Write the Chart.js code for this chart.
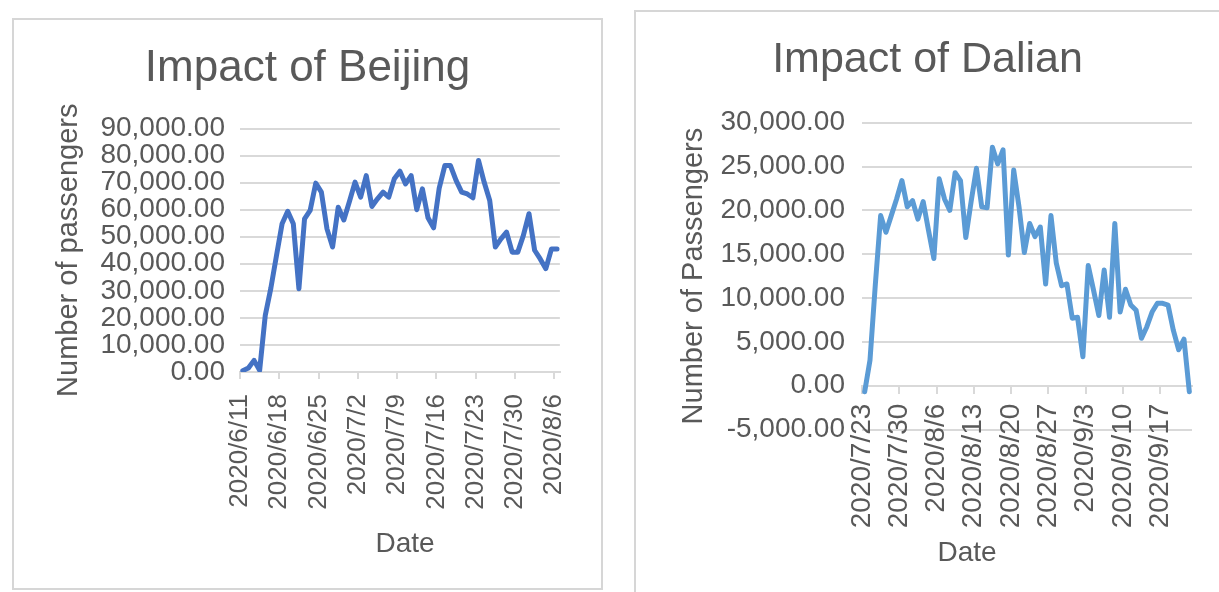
<!DOCTYPE html>
<html>
<head>
<meta charset="utf-8">
<title>Impact of Beijing / Dalian</title>
<script src="https://cdn.jsdelivr.net/npm/chart.js@4.4.1/dist/chart.umd.min.js"></script>
<style>
    html, body { margin: 0; padding: 0; background: #fff; overflow: hidden; }
    body { width: 1219px; height: 592px; position: relative; }
    .panel { position: absolute; border: 2px solid #d6d6d6; background: #fff; }
    #beijing-panel { left: 12px; top: 18px; width: 587px; height: 568px; }
    #dalian-panel { left: 634px; top: 10px; width: 600px; height: 620px; }
    canvas { display: block; }
</style>
</head>
<body>
<div class="panel" id="beijing-panel"><canvas id="beijing-chart" width="587" height="568"></canvas></div>
<div class="panel" id="dalian-panel"><canvas id="dalian-chart" width="583" height="620"></canvas></div>

<script>
// Daily passengers, Beijing: 2020/6/11 .. 2020/8/6
const bjTickLabels = ['2020/6/11', '2020/6/18', '2020/6/25', '2020/7/2', '2020/7/9',
    '2020/7/16', '2020/7/23', '2020/7/30', '2020/8/6'];
const bjPassengers = [
    500, 1500, 4300, 600, 20900, 31000, 43000, 54800, 59400, 54800,
    30800, 56600, 59700, 69800, 66500, 52900, 46200, 60900, 56200, 63000,
    70200, 64600, 72600, 61200, 64000, 66500, 64600, 71400, 74200, 69500,
    72600, 60000, 67700, 57000, 53300, 68000, 76300, 76300, 70800, 66500,
    65800, 64400, 78200, 70200, 63400, 46200, 49200, 51700, 44300, 44300,
    50500, 58500, 45000, 41800, 38200, 45500, 45500,
];

// Daily passengers, Dalian: 2020/7/23 .. 2020/9/22
const dlTickLabels = ['2020/7/23', '2020/7/30', '2020/8/6', '2020/8/13', '2020/8/20',
    '2020/8/27', '2020/9/3', '2020/9/10', '2020/9/17'];
const dlPassengers = [
    -700, 2900, 11500, 19400, 17500, 19400, 21300, 23400, 20400, 21100,
    19000, 21000, 17700, 14500, 23600, 21300, 20000, 24300, 23400, 16900,
    21000, 24800, 20400, 20300, 27200, 25300, 26900, 14900, 24600, 20400,
    15200, 18500, 17000, 18100, 11600, 19400, 14000, 11400, 11600, 7700,
    7800, 3300, 13700, 10900, 8000, 13200, 7800, 18500, 8400, 11000,
    9200, 8600, 5400, 6700, 8400, 9400, 9400, 9200, 6300, 4100,
    5300, -700,
];

const textGray = '#595959';
const gridGray = '#d9d9d9';
const family = '"Liberation Sans", Arial, sans-serif';

function formatPassengers(value) {
    return value.toLocaleString('en-US', { minimumFractionDigits: 2, maximumFractionDigits: 2 });
}

// "Date" caption under the x axis; placed by hand because it is not centred on the plot
const dateCaption = {
    id: 'dateCaption',
    afterDraw(chart, args, opts) {
        const ctx = chart.ctx;
        ctx.save();
        ctx.font = `28px ${family}`;
        ctx.fillStyle = textGray;
        ctx.textAlign = 'center';
        ctx.textBaseline = 'middle';
        ctx.fillText(opts.text, opts.x, opts.y);
        ctx.restore();
    },
};

function buildChart(canvasId, opts) {
    // each day is drawn in the middle of its slot, ticks sit on week boundaries
    const points = opts.values.map((v, i) => ({ x: i + 0.5, y: v }));

    return new Chart(document.getElementById(canvasId), {
        type: 'line',
        data: {
            datasets: [{
                data: points,
                borderColor: opts.color,
                borderWidth: 5,
                borderJoinStyle: 'round',
                borderCapStyle: 'round',
                pointRadius: 0,
                tension: 0,
            }],
        },
        plugins: [dateCaption],
        options: {
            responsive: false,
            animation: false,
            // equal side padding keeps the title centred on the panel
            layout: { padding: { left: opts.padSide, right: opts.padSide, top: 0, bottom: opts.padBottom } },
            plugins: {
                legend: { display: false },
                tooltip: { enabled: false },
                title: {
                    display: true,
                    text: opts.title,
                    color: textGray,
                    font: { family, size: opts.titleSize, weight: 'normal' },
                    padding: { top: opts.titleTop, bottom: opts.titleBottom },
                },
                dateCaption: { text: 'Date', x: opts.dateX, y: opts.dateY },
            },
            scales: {
                x: {
                    type: 'linear',
                    position: opts.xPosition,
                    min: 0,
                    max: opts.values.length,
                    afterBuildTicks: (scale) => {
                        scale.ticks = opts.tickLabels.map((_, k) => ({ value: k * 7 }));
                    },
                    afterFit: (scale) => { scale.height = opts.xHeight; },
                    ticks: {
                        autoSkip: false,
                        minRotation: 90,
                        maxRotation: 90,
                        padding: opts.xTickPad,
                        color: textGray,
                        font: { family, size: opts.xTickSize },
                        callback: (v) => opts.tickLabels[v / 7],
                    },
                    grid: { drawOnChartArea: false, drawTicks: true, tickLength: 7, color: gridGray, lineWidth: 2 },
                    border: { display: true, color: gridGray, width: 2 },
                },
                y: {
                    min: opts.yMin,
                    max: opts.yMax,
                    afterFit: (scale) => { scale.width = 226 - opts.padSide; },
                    ticks: {
                        autoSkip: false,
                        stepSize: opts.yStep,
                        padding: opts.yTickPad,
                        color: textGray,
                        font: { family, size: 28 },
                        callback: formatPassengers,
                    },
                    grid: { color: gridGray, lineWidth: 2, drawTicks: false },
                    border: { display: false },
                    title: {
                        display: true,
                        text: opts.yTitle,
                        color: textGray,
                        font: { family, size: 29 },
                        padding: { top: opts.yTitleTop, bottom: 0 },
                    },
                },
            },
        },
    });
}

buildChart('beijing-chart', {
    title: 'Impact of Beijing',
    titleSize: 44,
    yTitle: 'Number of passengers',
    values: bjPassengers,
    tickLabels: bjTickLabels,
    color: '#4472c4',
    yMin: 0, yMax: 90000, yStep: 10000,
    xPosition: 'bottom',
    padSide: 31, padBottom: 0,
    titleTop: 22.5, titleBottom: 33.2,
    xHeight: 216, xTickPad: 15, xTickSize: 26,
    dateX: 391, dateY: 524,
    yTickPad: 15, yTitleTop: 6.2,
});

// the date axis crosses at zero, so its room is kept free with bottom padding
buildChart('dalian-chart', {
    title: 'Impact of Dalian',
    titleSize: 43,
    yTitle: 'Number of Passengers',
    values: dlPassengers,
    tickLabels: dlTickLabels,
    color: '#5b9bd5',
    yMin: -5000, yMax: 30000, yStep: 5000,
    xPosition: { y: 0 },
    padSide: 27, padBottom: 202.5,
    titleTop: 22, titleBottom: 37.1,
    xHeight: 202.5, xTickPad: 11, xTickSize: 28,
    dateX: 331, dateY: 541,
    yTickPad: 17, yTitleTop: 13.5,
});
</script>
</body>
</html>
